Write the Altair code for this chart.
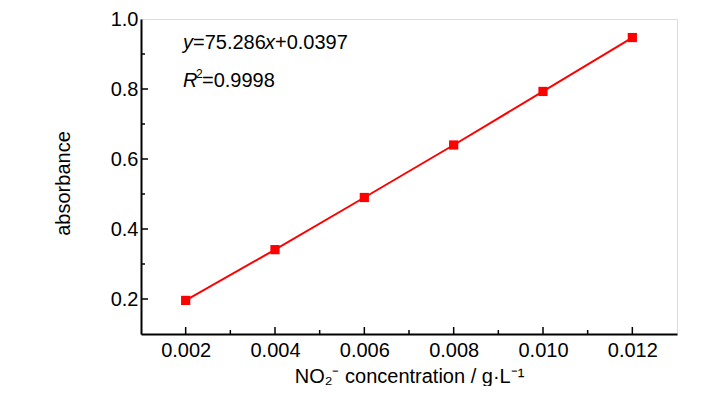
import altair as alt
import pandas as pd

# data
concentration = [0.002, 0.004, 0.006, 0.008, 0.010, 0.012]
absorbance = [0.196, 0.341, 0.490, 0.640, 0.793, 0.947]

x_major = [0.002, 0.004, 0.006, 0.008, 0.010, 0.012]
x_minor = [0.003, 0.005, 0.007, 0.009, 0.011]
y_major = [0.2, 0.4, 0.6, 0.8]
y_minor = [0.3, 0.5, 0.7, 0.9]
y_labels = [0.2, 0.4, 0.6, 0.8, 1.0]

TOP = 19
W, H = 536, 334 - TOP
FONT = "Liberation Sans"
RED = "#ff0000"

df = pd.DataFrame({"c": concentration, "a": absorbance})

xscale = alt.Scale(domain=[0.001, 0.013], nice=False, zero=False)
yscale = alt.Scale(domain=[0.1, 1.0], nice=False, zero=False)

x_enc = alt.X("c:Q", scale=xscale, axis=alt.Axis(
    values=x_major, format=".3f", ticks=False, grid=False,
    labelFont=FONT, labelFontSize=20, labelColor="black", labelPadding=6,
    title="NO₂⁻ concentration / g·L⁻¹", titleFont=FONT, titleFontSize=20,
    titleFontWeight="normal", titleColor="black", titlePadding=6,
    domainColor="black", domainWidth=2))
y_enc = alt.Y("a:Q", scale=yscale, axis=alt.Axis(
    values=y_labels, format=".1f", ticks=False, grid=False,
    labelFont=FONT, labelFontSize=20, labelColor="black", labelPadding=3,
    title="absorbance", titleFont=FONT, titleFontSize=20,
    titleFontWeight="normal", titleColor="black",
    titleX=-78, titleY=183 - TOP, titleBaseline="middle", titleAlign="center",
    domainColor="black", domainWidth=2))

line = alt.Chart(df).mark_line(color=RED, strokeWidth=2).encode(x=x_enc, y=y_enc)
pts = alt.Chart(df).mark_square(color=RED, size=85, opacity=1).encode(
    x=alt.X("c:Q", scale=xscale), y=alt.Y("a:Q", scale=yscale))

def xticks(vals, length):
    d = pd.DataFrame({"c": vals})
    return alt.Chart(d).mark_rule(color="black", strokeWidth=1.5).encode(
        x=alt.X("c:Q", scale=xscale), y=alt.value(H), y2=alt.value(H - length))

def yticks(vals, length):
    d = pd.DataFrame({"a": vals})
    return alt.Chart(d).mark_rule(color="black", strokeWidth=1.5).encode(
        y=alt.Y("a:Q", scale=yscale), x=alt.value(0), x2=alt.value(length))

def txt(s, x, y, italic=False, size=20, dy=0):
    d = pd.DataFrame({"t": [s]})
    return alt.Chart(d).mark_text(
        font=FONT, fontSize=size, align="left", baseline="middle",
        fontStyle="italic" if italic else "normal", color="black", dy=dy
    ).encode(text="t:N", x=alt.value(x), y=alt.value(y))

L1 = 43 - TOP
L2 = 81 - TOP
ann = [
    txt("y", 42, L1, italic=True),
    txt("=75.286", 52, L1),
    txt("x", 124, L1, italic=True),
    txt("+0.0397", 134, L1),
    txt("R", 42, L2, italic=True),
    txt("2", 55, L2, size=12, dy=-7),
    txt("=0.9998", 61, L2),
]

chart = alt.layer(
    line, pts,
    xticks(x_major, 7), xticks(x_minor, 4),
    yticks(y_major, 7), yticks(y_minor, 4),
    *ann
).properties(
    width=W, height=H, autosize="none",
    padding={"left": 133, "top": TOP - 8, "right": 30, "bottom": 52},
).configure_view(stroke="black", strokeWidth=2).configure(background="white")

chart.save("out.html", embed_options={"renderer": "svg", "actions": False})
